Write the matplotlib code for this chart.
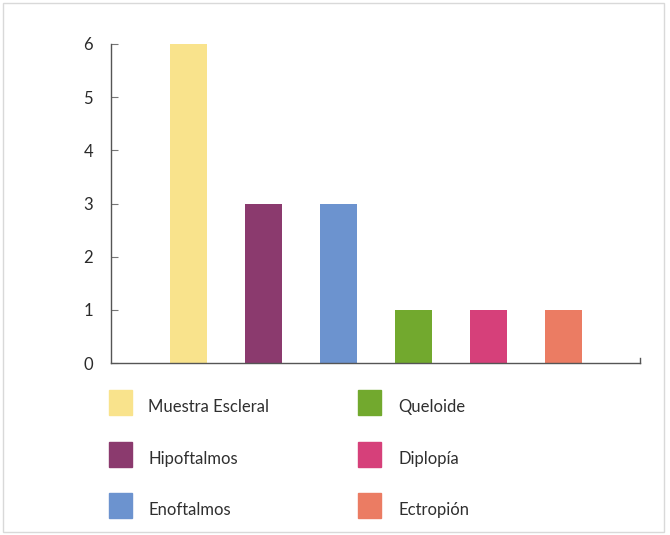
import matplotlib.pyplot as plt
from matplotlib.patches import Rectangle

categories = ["Muestra Escleral", "Hipoftalmos", "Enoftalmos", "Queloide", "Diplopía", "Ectropión"]
counts = [6, 3, 3, 1, 1, 1]
colors = ["#F9E38C", "#8B3A6E", "#6C93CF", "#72A92E", "#D6407A", "#EB7C63"]
yticks = [0, 1, 2, 3, 4, 5, 6]

plt.rcParams['font.family'] = ['Lato', 'DejaVu Sans']

W, H = 670, 535
fig = plt.figure(figsize=(W / 100, H / 100), dpi=100)
ax = fig.add_axes([111 / W, (H - 363) / H, (640 - 111) / W, (363 - 44) / H])

x = list(range(len(categories)))
ax.bar(x, counts, width=0.49, color=colors)
ax.set_xlim(-1.03, 6.02)
ax.set_ylim(0, 6)

for s in ["top", "right"]:
    ax.spines[s].set_visible(False)
for s in ["left", "bottom"]:
    ax.spines[s].set_color("#555555")
    ax.spines[s].set_linewidth(1.0)

ax.set_xticks([])
ax.set_yticks(yticks)
ax.tick_params(axis="y", direction="in", length=5, color="#777777",
               pad=13, labelsize=12, labelcolor="#2a2a2a")
# small upturn at the right end of the baseline
ax.plot([1, 1], [0, 0.015], transform=ax.transAxes, color="#555555", lw=1.0, clip_on=False)

# legend laid out in two columns below the plot
col_x = [109, 358]
text_x = [148, 398]
row_y = [403, 455, 506]
for i, (lab, c) in enumerate(zip(categories, colors)):
    col, row = divmod(i, 3)
    cx, cy = col_x[col], row_y[row]
    fig.add_artist(Rectangle((cx / W, 1 - (cy + 12) / H), 23 / W, 25 / H,
                             transform=fig.transFigure, color=c))
    fig.text(text_x[col] / W, 1 - (cy + 4) / H, lab, fontsize=12,
             color="#2f2f2f", va="center", ha="left")

# light frame around the whole figure
fig.add_artist(Rectangle((3 / W, 3 / H), (664 - 3) / W, (532 - 3) / H,
                         transform=fig.transFigure, fill=False, ec="#d9d9d9", lw=1.0))

fig.savefig("out.png", dpi=100)
